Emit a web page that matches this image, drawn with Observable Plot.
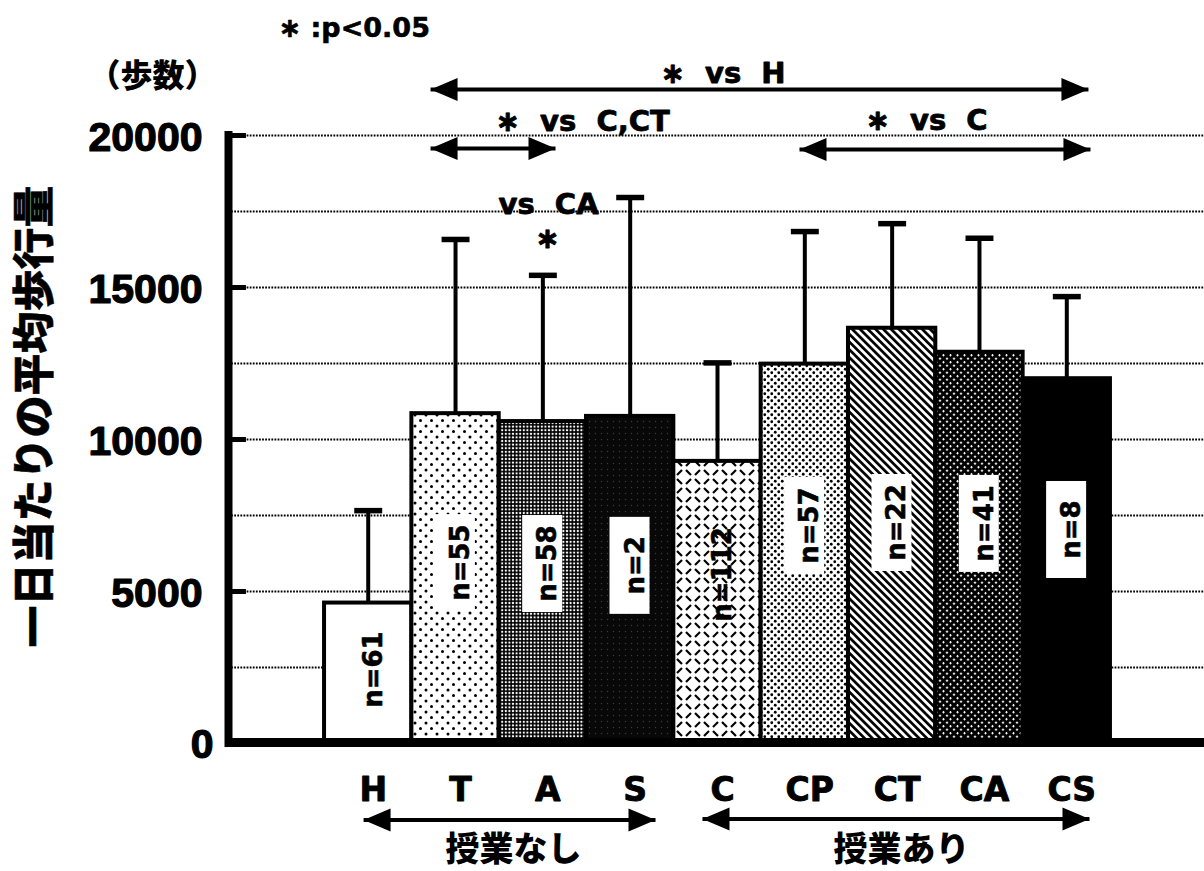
<!DOCTYPE html>
<html><head><meta charset="utf-8">
<script src="https://cdn.jsdelivr.net/npm/d3@7"></script>
<script src="https://cdn.jsdelivr.net/npm/@observablehq/plot@0.6"></script>
<style>body{margin:0;background:#fff}</style>
</head><body><div id="chart"></div>
<script>
// ---------- data ----------
const categories = ["H","T","A","S","C","CP","CT","CA","CS"];
const means      = [4620,10850,10590,10760,9280,12480,13660,12870,12000];
const sds        = [3040,5730,4810,7200,3240,4360,3440,3750,2700];
const nCounts    = [61,55,58,2,112,57,22,41,8];
const nLabelAt   = [2430,5950,5920,5860,5560,7170,7270,7240,7040];
const yTickValues = [0,5000,10000,15000,20000];
const gridValues  = [2500,5000,7500,10000,12500,15000,17500,20000];
const yTitle = "一日当たりの平均歩行量";
const yUnit  = "（歩数）";
const pNote  = "∗ :p<0.05";
const groupLabels = ["授業なし","授業あり"];

// significance annotations (x in category-index units, y in steps)
const sigTexts  = ["∗  vs  H","∗  vs  C,CT","∗  vs  C","vs  CA"];
const sigTextX  = [3.347,1.458,5.695,1.492];
const sigTextY  = [22040,20460,20490,17720];
const starX = 2.053, starY = 16600;
const arrowFrom = [0.714,0.714,4.939,-0.053,3.828];
const arrowTo   = [8.248,2.145,8.271,3.29,8.26];
const arrowAt   = [21510,19570,19540,-2520,-2480];
const groupLabelX = [1.664,6.107];

// ---------- styles ----------
const patternOf = {H:"#fff",T:"url(#pT)",A:"url(#pA)",S:"url(#pS)",C:"url(#pC)",CP:"url(#pCP)",CT:"url(#pCT)",CA:"url(#pCA)",CS:"#000"};
const noBox = new Set(["H","C"]);
const LAT = "DejaVu Sans, Liberation Sans, sans-serif";
const CJK = "Noto Sans CJK JP, sans-serif";
const xLeft = -1.6, xRight = 9.577;

const bars = categories.map((c,i)=>({c,i,mean:means[i],sd:sds[i],n:nCounts[i],ny:nLabelAt[i]}));
const arrows = arrowFrom.map((a,k)=>({a,b:arrowTo[k],y:arrowAt[k]}));
const sigs = sigTexts.map((t,k)=>({t,x:sigTextX[k],y:sigTextY[k]}));

const headRight = {draw(ctx){ctx.moveTo(0,0);ctx.lineTo(-27,-11.5);ctx.lineTo(-27,11.5);ctx.closePath();}};
const headLeft  = {draw(ctx){ctx.moveTo(0,0);ctx.lineTo(27,-11.5);ctx.lineTo(27,11.5);ctx.closePath();}};

const svg = Plot.plot({
  width: 1204, height: 871,
  marginLeft: 228, marginRight: 0, marginTop: 135, marginBottom: 128,
  x: {type:"linear", domain:[xLeft,xRight], axis:null},
  y: {domain:[0,20000], axis:null},
  color: {type:"identity"},
  style: {fontFamily: LAT, background:"#fff"},
  marks: [
    Plot.ruleY(gridValues, {y: d=>d, stroke:"#000", strokeWidth:2.2, strokeDasharray:"1.8,1.3"}),
    Plot.rectY(bars, {x1: d=>d.i-0.5, x2: d=>d.i+0.5, y1: 0, y2: d=>d.mean, fill: d=>patternOf[d.c], stroke:"#000", strokeWidth:4}),
    Plot.ruleX(bars, {x: d=>d.i, y1: d=>d.mean, y2: d=>d.mean+d.sd, stroke:"#000", strokeWidth:4}),
    Plot.link(bars, {x1: d=>d.i-0.16, x2: d=>d.i+0.16, y1: d=>d.mean+d.sd, y2: d=>d.mean+d.sd, stroke:"#000", strokeWidth:5.5}),
    Plot.text(bars, {x: d=>d.i, y: d=>d.ny, text: d=>"n="+d.n, rotate:-90, dx:5, fontSize:26, fontWeight:"bold", fill:"#000", stroke:"#000", strokeWidth:0.6}),
    // axes
    Plot.ruleY([0], {stroke:"#000", strokeWidth:9, dy:-1}),
    Plot.ruleX([xLeft], {y1:0, y2:20000, stroke:"#000", strokeWidth:8, strokeLinecap:"square"}),
    Plot.link(yTickValues.filter(v=>v>0), {x1: xLeft, x2: xLeft+0.2, y1: d=>d, y2: d=>d, stroke:"#000", strokeWidth:5}),
    Plot.text(yTickValues.filter(v=>v>0), {x: xLeft, y: d=>d, text: d=>String(d), textAnchor:"end", fontSize:41, fontWeight:"bold", fontFamily:"Liberation Sans, sans-serif", stroke:"#000", strokeWidth:1.2, fill:"#000", dx:-26, dy:2}),
    Plot.text([0], {x: xLeft, y: 0, text: d=>"0", textAnchor:"end", fontSize:41, fontWeight:"bold", fontFamily:"Liberation Sans, sans-serif", stroke:"#000", strokeWidth:1.2, fill:"#000", dx:-15, dy:1}),
    Plot.text(categories, {x: (d,i)=>i, y: -1546, text: d=>d, fontSize:33, fontWeight:"bold", fill:"#000", stroke:"#000", strokeWidth:0.9, dx:5}),
    // titles
    Plot.text([yTitle], {x: -3.81, y: 10760, text: d=>d, rotate:-90, fontSize:42, fontWeight:900, fontFamily:CJK, fill:"#000", stroke:"#000", strokeWidth:0.5}),
    Plot.text([yUnit], {x: -2.47, y: 21940, text: d=>d, fontSize:32, fontWeight:900, fontFamily:CJK, fill:"#000"}),
    Plot.text([pNote], {x: -1.027, y: 23520, text: d=>d, textAnchor:"start", fontSize:27, fontWeight:"bold", fill:"#000", stroke:"#000", strokeWidth:0.6}),
    // significance arrows
    Plot.link(arrows, {x1: d=>d.a, x2: d=>d.b, y1: d=>d.y, y2: d=>d.y, stroke:"#000", strokeWidth:4}),
    Plot.dot(arrows, {x: d=>d.a, y: d=>d.y, symbol: headLeft, r:10, fill:"#000", stroke:"none"}),
    Plot.dot(arrows, {x: d=>d.b, y: d=>d.y, symbol: headRight, r:10, fill:"#000", stroke:"none"}),
    Plot.text(sigs, {x: d=>d.x, y: d=>d.y, text: d=>d.t, textAnchor:"start", fontSize:29, fontWeight:"bold", fill:"#000", stroke:"#000", strokeWidth:0.8}),
    Plot.text(["∗"], {x: starX, y: starY, text: d=>d, textAnchor:"middle", fontSize:29, fontWeight:"bold", fill:"#000", stroke:"#000", strokeWidth:0.8}),
    Plot.text(groupLabels, {x: (d,i)=>groupLabelX[i], y: -3520, text: d=>d, fontSize:34, fontWeight:900, fontFamily:CJK, fill:"#000"})
  ]
});

document.getElementById("chart").appendChild(svg);

// pattern definitions
d3.select(svg).insert("defs", ":first-child").html(`
<pattern id="pT" patternUnits="userSpaceOnUse" width="11" height="11">
  <rect width="11" height="11" fill="#fff"/>
  <circle cx="2.5" cy="2.5" r="1.5" fill="#000"/><circle cx="8" cy="8" r="1.5" fill="#000"/>
</pattern>
<pattern id="pA" patternUnits="userSpaceOnUse" width="3.6" height="3.6">
  <rect width="3.6" height="3.6" fill="#000"/>
  <circle cx="1.8" cy="1.8" r="1.15" fill="#fff"/>
</pattern>
<pattern id="pS" patternUnits="userSpaceOnUse" width="6" height="6">
  <rect width="6" height="6" fill="#080808"/>
  <circle cx="1.5" cy="1.5" r="0.7" fill="#3a3a3a"/>
</pattern>
<pattern id="pC" patternUnits="userSpaceOnUse" width="18" height="18">
  <rect width="18" height="18" fill="#fff"/>
  <g stroke="#000" stroke-width="2.2">
    <line x1="2" y1="2" x2="7" y2="7"/><line x1="11" y1="7" x2="16" y2="2"/>
    <line x1="2" y1="16" x2="7" y2="11"/><line x1="11" y1="11" x2="16" y2="16"/>
  </g>
</pattern>
<pattern id="pCP" patternUnits="userSpaceOnUse" width="7" height="7">
  <rect width="7" height="7" fill="#fff"/>
  <circle cx="1.75" cy="1.75" r="1.4" fill="#000"/><circle cx="5.25" cy="5.25" r="1.4" fill="#000"/>
</pattern>
<pattern id="pCT" patternUnits="userSpaceOnUse" width="5.5" height="5.5" patternTransform="rotate(-45)">
  <rect width="5.5" height="5.5" fill="#fff"/>
  <rect width="2.7" height="5.5" fill="#000"/>
</pattern>
<pattern id="pCA" patternUnits="userSpaceOnUse" width="7" height="7">
  <rect width="7" height="7" fill="#000"/>
  <g fill="#fff">
    <rect x="0.75" y="1.25" width="2.5" height="0.9"/><rect x="1.55" y="0.45" width="0.9" height="2.5"/>
    <rect x="4.25" y="4.75" width="2.5" height="0.9"/><rect x="5.05" y="3.95" width="0.9" height="2.5"/>
  </g>
</pattern>`);

// white boxes behind the n= labels
d3.select(svg).selectAll("text").filter(function(){ return /^n=\d+$/.test(this.textContent); }).each(function(){
  const i = nCounts.findIndex(v => "n=" + v === this.textContent);
  if (i < 0 || noBox.has(categories[i])) return;
  const bb = this.getBBox();
  const cx = bb.x + bb.width/2, L = 97;
  const r = document.createElementNS("http://www.w3.org/2000/svg","rect");
  r.setAttribute("x", cx - L/2);
  r.setAttribute("width", L);
  r.setAttribute("y", bb.y - 10);
  r.setAttribute("height", bb.height + 10);
  r.setAttribute("fill", "#fff");
  r.setAttribute("stroke", "none");
  const t = this.getAttribute("transform");
  if (t) r.setAttribute("transform", t);
  this.parentNode.insertBefore(r, this);
});
</script>
</body></html>
